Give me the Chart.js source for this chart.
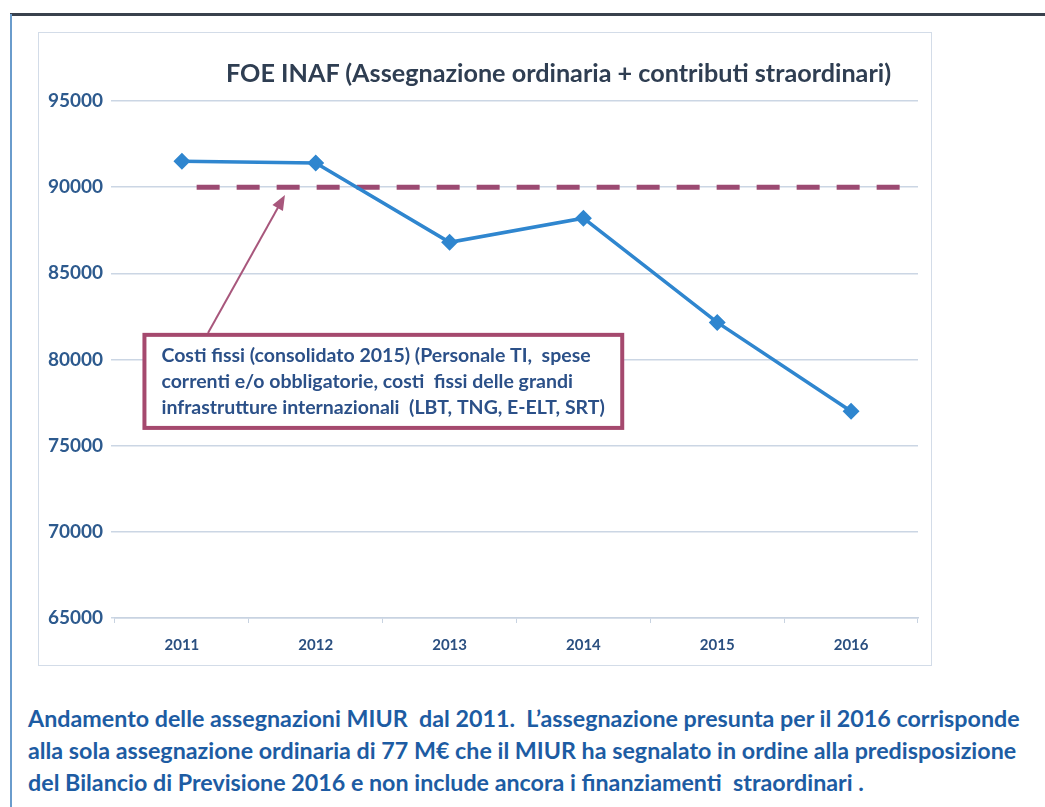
<!DOCTYPE html>
<html>
<head>
<meta charset="utf-8">
<script src="https://cdn.jsdelivr.net/npm/chart.js@4.4.0/dist/chart.umd.min.js"></script>
<style>
body{margin:0;background:#fff;width:1045px;height:807px;overflow:hidden;position:relative;font-family:Lato,sans-serif}
#topline{position:absolute;left:10px;top:13px;width:1035px;height:3px;background:#39414d}
#leftline{position:absolute;left:10px;top:14px;width:2px;height:793px;background:#6a9ccc}
#frame{position:absolute;left:38px;top:32px;width:894px;height:634px;border:1px solid #d3dce8;box-sizing:border-box}
#c{position:absolute;left:39px;top:33px}
#title{position:absolute;left:226px;top:57px;line-height:30px;white-space:pre;color:#2f3e52;font-weight:bold}
.cap{position:absolute;left:28px;white-space:pre;color:#1d5ca3;line-height:32px;font-weight:bold}
</style>
</head>
<body>
<div id="topline"></div>
<div id="leftline"></div>
<div id="frame"></div>
<canvas id="c" width="892" height="632"></canvas>
<div id="title"></div>
<div class="cap" id="cap1" style="top:702px"></div>
<div class="cap" id="cap2" style="top:734px"></div>
<div class="cap" id="cap3" style="top:766px"></div>
<script>
'use strict'
// data
let years=['2011','2012','2013','2014','2015','2016']
let foeValues=[91500,91400,86800,88200,82150,77000]
let fixedCosts=90000
let yMin=65000
let yMax=95000
let yStep=5000

let titleText='FOE INAF (Assegnazione ordinaria + contributi straordinari)'
let noteLines=['Costi fissi (consolidato 2015) (Personale TI,  spese','correnti e/o obbligatorie, costi  fissi delle grandi','infrastrutture internazionali  (LBT, TNG, E-ELT, SRT)']
let captionLines=['Andamento delle assegnazioni MIUR  dal 2011.  L\u2019assegnazione presunta per il 2016 corrisponde','alla sola assegnazione ordinaria di 77 M\u20ac che il MIUR ha segnalato in ordine alla predisposizione','del Bilancio di Previsione 2016 e non include ancora i finanziamenti  straordinari .']

// where the note sits, in axis units (xl axis: category index)
let notePos={x0:-0.28,x1:3.29,y0:81430,y1:76030}
let arrowPos={x0:0.195,y0:81540,x1:0.77,y1:89550}

let meas=document.createElement('canvas').getContext('2d')
function fitSize(text,weight,target){
    meas.font=weight+' 20px Lato'
    return 20*target/meas.measureText(text).width
}

let titleEl=document.getElementById('title')
titleEl.textContent=titleText
titleEl.style.fontSize=fitSize(titleText,'bold',666)+'px'

let capSize=fitSize(captionLines[1],'bold',989)
for (let i = 0; i < captionLines.length; i++) {
    let el=document.getElementById('cap'+(i+1))
    el.textContent=captionLines[i]
    el.style.fontSize=capSize+'px'
}

let notePlugin={
    id:'notePlugin',
    afterDatasetsDraw(chart){
        let ctx=chart.ctx
        let xs=chart.scales.xl, ys=chart.scales.y
        let l=xs.getPixelForValue(notePos.x0), r=xs.getPixelForValue(notePos.x1)
        let t=ys.getPixelForValue(notePos.y0), b=ys.getPixelForValue(notePos.y1)
        ctx.save()
        // arrow
        let ax=xs.getPixelForValue(arrowPos.x0), ay=ys.getPixelForValue(arrowPos.y0)
        let bx=xs.getPixelForValue(arrowPos.x1), by=ys.getPixelForValue(arrowPos.y1)
        let ang=Math.atan2(by-ay,bx-ax)
        ctx.strokeStyle='#a8577c'
        ctx.fillStyle='#a8577c'
        ctx.lineWidth=2
        ctx.beginPath()
        ctx.moveTo(ax,ay)
        ctx.lineTo(bx-Math.cos(ang)*10,by-Math.sin(ang)*10)
        ctx.stroke()
        ctx.beginPath()
        ctx.moveTo(bx,by)
        ctx.lineTo(bx-Math.cos(ang)*15+Math.sin(ang)*6,by-Math.sin(ang)*15-Math.cos(ang)*6)
        ctx.lineTo(bx-Math.cos(ang)*15-Math.sin(ang)*6,by-Math.sin(ang)*15+Math.cos(ang)*6)
        ctx.closePath()
        ctx.fill()
        // box
        ctx.fillStyle='#fff'
        ctx.fillRect(l,t,r-l,b-t)
        ctx.lineWidth=4
        ctx.strokeStyle='#a5496e'
        ctx.strokeRect(l,t,r-l,b-t)
        // text
        ctx.font='bold 20px Lato'
        let fs=20*(r-l-34)/ctx.measureText(noteLines[2]).width
        ctx.font='bold '+fs+'px Lato'
        ctx.fillStyle='#2b5088'
        ctx.textBaseline='middle'
        for (let i = 0; i < noteLines.length; i++) {
            ctx.fillText(noteLines[i],l+17,t+21+i*26)
        }
        ctx.restore()
    }
}

let ctx=document.getElementById('c').getContext('2d')
let myChart=new Chart(ctx,{
    type:'line',
    data:{
        labels:years,
        datasets:[{
            label:'FOE INAF',
            data:foeValues,
            xAxisID:'x',
            borderColor:'#2f86cf',
            backgroundColor:'#2f86cf',
            borderWidth:3.5,
            pointStyle:'rectRot',
            pointRadius:6,
            tension:0,
            order:1
        },{
            label:'Costi fissi',
            data:[{x:0.11,y:fixedCosts},{x:5.45,y:fixedCosts}],
            xAxisID:'xl',
            borderColor:'#9c4a72',
            borderWidth:5,
            borderDash:[23,17],
            pointRadius:0,
            order:2
        }]
    },
    options:{
        responsive:false,
        animation:false,
        events:[],
        layout:{padding:{left:0,right:13,top:68,bottom:0}},
        plugins:{
            legend:{display:false},
            tooltip:{enabled:false},
            title:{display:false}
        },
        scales:{
            x:{
                type:'category',
                offset:true,
                grid:{offset:true,drawOnChartArea:false,drawTicks:true,tickLength:5,color:'#c8d3e1'},
                border:{display:true,color:'#c8d3e1',width:1.5},
                ticks:{padding:13,color:'#2a4f80',font:{family:'Lato',size:15,weight:'bold'}},
                afterFit(s){s.height=47}
            },
            xl:{
                type:'linear',
                display:false,
                min:-0.5,
                max:5.5
            },
            y:{
                min:yMin,
                max:yMax,
                ticks:{stepSize:yStep,padding:8,color:'#2d5a8e',font:{family:'Lato',size:19,weight:'bold'},
                    callback:v=>String(v)},
                grid:{color:'#cbd6e4',lineWidth:1.5,tickLength:4},
                border:{display:false},
                afterFit(s){s.width=76}
            }
        }
    },
    plugins:[notePlugin]
})
</script>
</body>
</html>
